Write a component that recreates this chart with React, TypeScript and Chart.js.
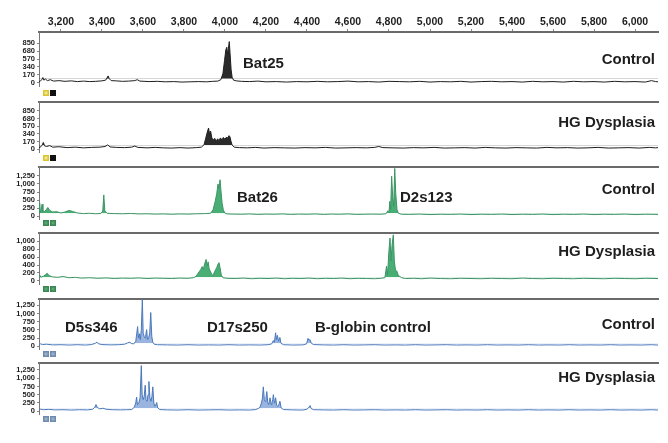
import React, { useEffect, useRef } from "react";
import { Chart, registerables } from "chart.js";
Chart.register(...registerables);

// ---------- data ----------
const X_TICKS = [3200, 3400, 3600, 3800, 4000, 4200, 4400, 4600, 4800, 5000, 5200, 5400, 5600, 5800, 6000];
const Y_TICKS_850 = [0, 170, 340, 510, 680, 850];
const Y_LABELS_850 = ["0", "170", "340", "570", "680", "850"];
const Y_TICKS_1250 = [0, 250, 500, 750, 1000, 1250];
const Y_LABELS_1250 = ["0", "250", "500", "750", "1,000", "1,250"];
const Y_TICKS_1000 = [0, 200, 400, 600, 800, 1000];
const Y_LABELS_1000 = ["0", "200", "400", "600", "800", "1,000"];

const CONTROL_BLACK: [number, number][] = [
  [3093,30],[3100,45],[3107,70],[3112,115],[3117,60],[3124,85],[3134,50],[3148,70],[3165,40],[3190,50],[3220,35],[3250,45],[3280,30],[3310,40],[3340,30],[3370,35],[3400,45],[3418,60],[3425,110],[3430,150],[3436,90],[3445,50],[3470,45],[3500,35],[3530,40],[3560,50],[3572,70],[3585,40],[3630,30],[3670,35],[3710,25],[3750,30],[3790,20],[3830,25],[3870,30],[3910,25],[3940,35],[3965,40],[3980,70],[3990,200],[3998,480],[4004,700],[4009,760],[4013,600],[4017,740],[4021,880],[4025,620],[4030,280],[4035,120],[4042,60],[4055,45],[4080,35],[4120,30],[4160,40],[4200,25],[4250,30],[4300,20],[4350,30],[4400,25],[4450,35],[4500,25],[4550,30],[4600,40],[4650,25],[4700,30],[4750,20],[4800,35],[4850,30],[4900,25],[4950,35],[5000,20],[5050,30],[5100,25],[5150,35],[5200,20],[5250,30],[5300,35],[5350,25],[5400,30],[5450,20],[5500,35],[5550,25],[5600,30],[5650,20],[5700,35],[5750,25],[5800,30],[5850,20],[5900,35],[5950,25],[6000,30],[6050,20],[6080,50],[6100,30],[6112,25]
];
const HG_BLACK: [number, number][] = [
  [3093,35],[3102,55],[3109,95],[3114,150],[3120,75],[3130,60],[3145,80],[3160,45],[3190,55],[3230,35],[3270,45],[3310,30],[3350,40],[3390,45],[3415,60],[3428,95],[3440,50],[3470,40],[3510,35],[3545,45],[3560,70],[3575,40],[3620,30],[3660,40],[3700,30],[3740,25],[3780,35],[3820,25],[3860,35],[3885,45],[3898,100],[3906,240],[3914,380],[3920,470],[3925,330],[3930,400],[3936,250],[3943,200],[3950,240],[3957,170],[3964,230],[3971,190],[3978,250],[3985,200],[3992,260],[4000,220],[4008,270],[4014,240],[4019,300],[4024,280],[4029,180],[4035,90],[4045,45],[4070,35],[4110,30],[4150,40],[4190,25],[4240,35],[4290,30],[4340,25],[4390,35],[4440,30],[4490,40],[4540,25],[4590,30],[4640,35],[4690,30],[4730,40],[4750,60],[4770,35],[4820,30],[4870,25],[4920,35],[4970,30],[5020,40],[5070,25],[5120,30],[5170,35],[5220,25],[5270,40],[5320,30],[5370,25],[5420,35],[5470,30],[5520,25],[5570,40],[5620,30],[5670,35],[5720,25],[5770,30],[5820,40],[5870,25],[5920,30],[5970,35],[6020,25],[6070,40],[6100,30],[6112,35]
];
const CONTROL_GREEN: [number, number][] = [
  [3093,150],[3096,420],[3100,120],[3104,200],[3108,370],[3112,150],[3120,140],[3128,200],[3136,270],[3145,180],[3160,130],[3180,140],[3200,100],[3220,130],[3240,180],[3255,150],[3280,100],[3310,80],[3340,90],[3370,75],[3395,85],[3404,160],[3409,660],[3414,160],[3425,90],[3460,80],[3500,75],[3540,85],[3580,70],[3620,75],[3660,65],[3700,70],[3740,60],[3780,70],[3820,65],[3860,75],[3900,80],[3930,90],[3942,200],[3952,450],[3960,700],[3966,1000],[3971,850],[3976,1130],[3981,750],[3986,400],[3992,200],[3999,100],[4010,70],[4040,65],[4080,60],[4120,70],[4160,55],[4200,65],[4240,60],[4280,70],[4320,55],[4360,65],[4400,60],[4440,70],[4480,55],[4520,65],[4560,60],[4600,70],[4640,55],[4680,60],[4720,65],[4760,60],[4785,75],[4795,170],[4800,110],[4804,460],[4808,200],[4813,1240],[4818,600],[4823,300],[4828,1480],[4833,700],[4839,200],[4846,90],[4860,60],[4900,55],[4950,65],[5000,50],[5050,60],[5100,55],[5150,65],[5200,50],[5250,60],[5300,55],[5350,65],[5400,50],[5450,60],[5500,55],[5550,65],[5600,50],[5650,60],[5700,55],[5750,65],[5800,50],[5850,60],[5900,55],[5950,65],[6000,50],[6050,60],[6112,55]
];
const HG_GREEN: [number, number][] = [
  [3093,120],[3096,150],[3102,90],[3115,120],[3125,160],[3133,190],[3143,130],[3160,100],[3185,90],[3210,110],[3240,80],[3270,90],[3300,70],[3340,80],[3380,65],[3420,75],[3460,60],[3500,70],[3540,65],[3580,75],[3620,60],[3660,70],[3700,65],[3740,60],[3780,70],[3820,65],[3845,80],[3858,110],[3866,170],[3874,230],[3882,290],[3889,360],[3895,300],[3901,430],[3908,540],[3913,380],[3918,480],[3923,300],[3929,240],[3935,170],[3941,140],[3947,200],[3954,280],[3960,340],[3966,420],[3971,460],[3976,330],[3982,150],[3990,80],[4010,65],[4050,60],[4090,70],[4130,55],[4170,65],[4210,60],[4250,70],[4290,55],[4330,65],[4370,60],[4410,70],[4450,55],[4490,65],[4530,60],[4570,70],[4610,55],[4650,65],[4690,60],[4730,55],[4760,65],[4780,80],[4788,370],[4793,150],[4799,700],[4805,1080],[4810,500],[4815,900],[4821,1160],[4826,500],[4832,260],[4838,250],[4845,140],[4853,110],[4862,80],[4880,60],[4920,65],[4960,55],[5000,70],[5050,60],[5100,55],[5150,65],[5200,60],[5250,55],[5300,65],[5350,60],[5400,55],[5450,70],[5500,60],[5550,55],[5600,65],[5650,60],[5700,55],[5750,65],[5800,60],[5850,55],[5900,65],[5950,60],[6000,55],[6050,65],[6112,60]
];
const CONTROL_BLUE: [number, number][] = [
  [3093,40],[3100,70],[3110,50],[3130,60],[3160,40],[3200,45],[3240,35],[3280,45],[3320,35],[3350,50],[3368,90],[3375,120],[3385,70],[3400,50],[3440,40],[3480,45],[3510,60],[3525,100],[3535,120],[3545,80],[3555,70],[3565,150],[3570,400],[3574,600],[3578,250],[3583,380],[3587,200],[3592,500],[3597,1430],[3601,400],[3606,300],[3610,250],[3614,350],[3618,506],[3622,200],[3628,250],[3633,400],[3638,1030],[3643,300],[3648,120],[3655,60],[3670,45],[3720,40],[3770,35],[3820,45],[3870,35],[3920,40],[3970,35],[4020,45],[4070,35],[4120,40],[4170,35],[4210,45],[4228,70],[4236,171],[4241,120],[4247,410],[4251,200],[4256,330],[4261,150],[4268,266],[4273,90],[4285,45],[4330,35],[4380,40],[4398,70],[4405,238],[4410,180],[4415,200],[4421,90],[4432,50],[4480,40],[4530,35],[4580,45],[4630,35],[4680,40],[4730,45],[4780,35],[4830,40],[4880,35],[4930,45],[4980,35],[5030,40],[5080,45],[5130,35],[5180,40],[5230,35],[5280,45],[5330,35],[5380,40],[5430,35],[5480,45],[5530,35],[5580,40],[5630,35],[5680,45],[5730,35],[5780,40],[5830,35],[5880,45],[5930,35],[5980,40],[6030,35],[6080,45],[6112,35]
];
const HG_BLUE: [number, number][] = [
  [3093,40],[3100,60],[3115,45],[3140,55],[3170,40],[3210,45],[3250,35],[3290,45],[3330,40],[3355,60],[3365,120],[3371,200],[3378,110],[3390,70],[3405,90],[3420,60],[3450,45],[3490,40],[3520,45],[3545,50],[3558,120],[3565,260],[3569,430],[3573,200],[3580,250],[3586,400],[3592,1383],[3596,500],[3601,350],[3606,450],[3611,787],[3615,350],[3620,300],[3625,500],[3629,900],[3634,400],[3639,300],[3644,450],[3648,738],[3653,250],[3658,150],[3662,180],[3667,264],[3672,100],[3682,50],[3720,40],[3770,35],[3820,45],[3870,35],[3920,40],[3970,45],[4020,35],[4070,40],[4120,35],[4150,50],[4165,90],[4171,122],[4178,250],[4183,400],[4187,738],[4192,350],[4196,300],[4200,400],[4204,596],[4209,250],[4213,200],[4217,300],[4220,406],[4225,200],[4229,250],[4233,350],[4236,502],[4241,250],[4244,300],[4247,406],[4252,180],[4258,150],[4263,200],[4268,300],[4274,100],[4285,50],[4330,40],[4380,35],[4400,60],[4410,120],[4415,170],[4420,80],[4432,45],[4480,40],[4530,35],[4580,45],[4630,35],[4680,40],[4730,45],[4780,35],[4830,40],[4880,35],[4930,45],[4980,35],[5030,40],[5080,45],[5130,35],[5180,40],[5230,35],[5280,45],[5330,35],[5380,40],[5430,35],[5480,45],[5530,35],[5580,40],[5630,35],[5680,45],[5730,35],[5780,40],[5830,35],[5880,45],[5930,35],[5980,40],[6030,35],[6080,45],[6112,35]
];

// ---------- layout / style ----------
const FONT = '"Liberation Sans", Arial, Helvetica, sans-serif';
const X_MIN = 3093;
const X_MAX = 6112;

type Txt = { text: string; x: number; y: number; align: CanvasTextAlign };
type PanelCfg = {
  data: [number, number][];
  line: string;
  fillColor: string;
  top: number;
  bottom: number;
  yMin: number;
  yMax: number;
  ticks: number[];
  labels: string[];
  sqY: number;
  sq: [string, string][];
  texts: Txt[];
};

const SQ_BLACK: [string, string][] = [["#dcc42e", "#f1e48f"], ["#111111", "#111111"]];
const SQ_GREEN: [string, string][] = [["#3b8752", "#5aa673"], ["#3b8752", "#5aa673"]];
const SQ_BLUE: [string, string][] = [["#6f8cae", "#97aec7"], ["#6f8cae", "#97aec7"]];

const PANELS: PanelCfg[] = [
  { data: CONTROL_BLACK, line: "#1e1e1e", fillColor: "rgba(20,20,20,0.9)", top: 32, bottom: 86, yMin: -64, yMax: 1084,
    ticks: Y_TICKS_850, labels: Y_LABELS_850, sqY: 90, sq: SQ_BLACK,
    texts: [{ text: "Bat25", x: 243, y: 63.5, align: "left" }, { text: "Control", x: 655, y: 60, align: "right" }] },
  { data: HG_BLACK, line: "#1e1e1e", fillColor: "rgba(20,20,20,0.9)", top: 98, bottom: 152, yMin: -62, yMax: 1057,
    ticks: Y_TICKS_850, labels: Y_LABELS_850, sqY: 155, sq: SQ_BLACK,
    texts: [{ text: "HG Dysplasia", x: 655, y: 123, align: "right" }] },
  { data: CONTROL_GREEN, line: "#3d9466", fillColor: "rgba(40,160,90,0.85)", top: 163, bottom: 219, yMin: -87, yMax: 1541,
    ticks: Y_TICKS_1250, labels: Y_LABELS_1250, sqY: 220, sq: SQ_GREEN,
    texts: [{ text: "Bat26", x: 237, y: 198, align: "left" }, { text: "D2s123", x: 400, y: 198, align: "left" }, { text: "Control", x: 655, y: 190, align: "right" }] },
  { data: HG_GREEN, line: "#3d9466", fillColor: "rgba(40,160,90,0.85)", top: 229, bottom: 284, yMin: -78, yMax: 1219,
    ticks: Y_TICKS_1000, labels: Y_LABELS_1000, sqY: 286, sq: SQ_GREEN,
    texts: [{ text: "HG Dysplasia", x: 655, y: 252, align: "right" }] },
  { data: CONTROL_BLUE, line: "#4a78bb", fillColor: "rgba(110,150,210,0.7)", top: 295, bottom: 349, yMin: -86, yMax: 1459,
    ticks: Y_TICKS_1250, labels: Y_LABELS_1250, sqY: 351, sq: SQ_BLUE,
    texts: [{ text: "D5s346", x: 65, y: 328, align: "left" }, { text: "D17s250", x: 207, y: 328, align: "left" }, { text: "B-globin control", x: 315, y: 328, align: "left" }, { text: "Control", x: 655, y: 325, align: "right" }] },
  { data: HG_BLUE, line: "#4a78bb", fillColor: "rgba(110,150,210,0.7)", top: 359, bottom: 414, yMin: -85, yMax: 1477,
    ticks: Y_TICKS_1250, labels: Y_LABELS_1250, sqY: 416, sq: SQ_BLUE,
    texts: [{ text: "HG Dysplasia", x: 655, y: 378, align: "right" }] },
];

const BOTTOM_PAD = 12;

function canvasTop(i: number) {
  return i === 0 ? 0 : PANELS[i].top - 3;
}
function canvasHeight(i: number) {
  return PANELS[i].bottom + BOTTOM_PAD - canvasTop(i);
}

export default function App() {
  const refs = useRef<(HTMLCanvasElement | null)[]>([]);

  useEffect(() => {
    document.body.style.margin = "0";
    const charts: Chart[] = [];
    PANELS.forEach((p, i) => {
      const canvas = refs.current[i];
      if (!canvas) return;
      const cTop = canvasTop(i);
      const first = i === 0;
      const decor = {
        id: "decor" + i,
        afterDraw(chart: Chart) {
          const ctx = chart.ctx;
          ctx.save();
          ctx.font = `bold 15px ${FONT}`;
          ctx.fillStyle = "#1e1e1e";
          ctx.textBaseline = "middle";
          p.texts.forEach((t) => {
            ctx.textAlign = t.align;
            ctx.fillText(t.text, t.x, t.y - cTop);
          });
          p.sq.forEach((c, k) => {
            const x = 43 + k * 7;
            const y = p.sqY - cTop;
            ctx.fillStyle = c[0];
            ctx.fillRect(x, y, 6, 6);
            ctx.fillStyle = c[1];
            ctx.fillRect(x + 1.5, y + 1.5, 3, 3);
          });
          ctx.restore();
        },
      };
      const chart = new Chart(canvas, {
        type: "line",
        data: {
          datasets: [
            {
              data: p.data.map(([x, y]) => ({ x, y })),
              borderColor: p.line,
              borderWidth: 1,
              pointRadius: 0,
              tension: 0,
              fill: { target: { value: 90 }, above: p.fillColor, below: "rgba(0,0,0,0)" },
            },
          ],
        },
        options: {
          animation: false,
          responsive: false,
          devicePixelRatio: 1,
          layout: { padding: { top: first ? 0 : 3, bottom: BOTTOM_PAD, left: 0, right: 10 } },
          plugins: { legend: { display: false }, tooltip: { enabled: false }, title: { display: false } },
          scales: {
            x: {
              type: "linear",
              position: "top",
              min: X_MIN,
              max: X_MAX,
              afterBuildTicks: (s: any) => {
                s.ticks = X_TICKS.map((value) => ({ value }));
              },
              afterFit: (s: any) => {
                s.height = first ? p.top : 0;
              },
              ticks: {
                display: first,
                autoSkip: false,
                maxRotation: 0,
                padding: 1,
                color: "#1e1e1e",
                font: { family: FONT, size: 10.5, weight: "bold" },
                callback: (v: any) => Number(v).toLocaleString("en-US"),
              },
              grid: { display: first, drawOnChartArea: false, drawTicks: first, tickLength: 3, color: "#888" },
              border: { display: true, color: "#6a6a6a", width: 2 },
            },
            y: {
              type: "linear",
              min: p.yMin,
              max: p.yMax,
              afterBuildTicks: (s: any) => {
                s.ticks = p.ticks.map((value) => ({ value }));
              },
              afterFit: (s: any) => {
                s.width = 39;
              },
              ticks: {
                autoSkip: false,
                padding: 2,
                color: "#1e1e1e",
                font: { family: FONT, size: 7.5, weight: "bold" },
                callback: (v: any) => {
                  const k = p.ticks.indexOf(Number(v));
                  return k >= 0 ? p.labels[k] : "";
                },
              },
              grid: { display: true, drawOnChartArea: false, drawTicks: true, tickLength: 2, color: "#888" },
              border: { display: true, color: "#777", width: 1 },
            },
          },
        },
        plugins: [decor],
      } as any);
      charts.push(chart);
    });
    return () => charts.forEach((c) => c.destroy());
  }, []);

  return (
    <div style={{ position: "absolute", left: 0, top: 0, width: 668, height: 443, background: "#fff", overflow: "hidden" }}>
      {PANELS.map((_, i) => (
        <canvas
          key={i}
          ref={(el) => {
            refs.current[i] = el;
          }}
          width={668}
          height={canvasHeight(i)}
          style={{ position: "absolute", left: 0, top: canvasTop(i), width: 668, height: canvasHeight(i) }}
        />
      ))}
    </div>
  );
}
